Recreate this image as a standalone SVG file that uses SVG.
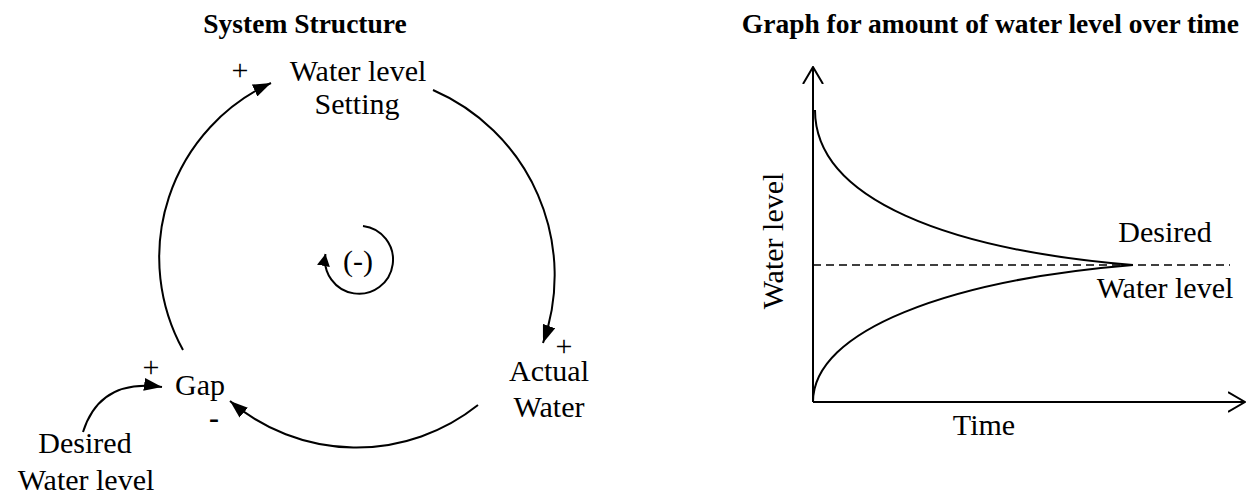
<svg xmlns="http://www.w3.org/2000/svg" width="1260" height="497" viewBox="0 0 1260 497">
<style>
text{font-family:"Liberation Serif","Times New Roman",serif;font-size:30px;fill:#000}
.t{font-weight:bold;font-size:27.5px}
.c{text-anchor:middle}
.ln{fill:none;stroke:#000;stroke-width:2}
.dash{fill:none;stroke:#000;stroke-width:1.6;stroke-dasharray:8,5}
</style>
<defs>
<marker id="ah" viewBox="0 0 18 13" refX="18" refY="6.5" markerWidth="18" markerHeight="13" markerUnits="userSpaceOnUse" orient="auto">
<path d="M0,0 L18,6.5 L0,13 z" fill="#000"/>
</marker>
<marker id="ahs" viewBox="0 0 12 13" refX="12" refY="6.5" markerWidth="12" markerHeight="13" markerUnits="userSpaceOnUse" orient="auto">
<path d="M0,0 L12,6.5 L0,13 z" fill="#000"/>
</marker>
<marker id="open" viewBox="0 0 18 22" refX="17" refY="11" markerWidth="18" markerHeight="22" markerUnits="userSpaceOnUse" orient="auto">
<path d="M0,1 L17,11 L0,21" fill="none" stroke="#000" stroke-width="2"/>
</marker>
</defs>

<text class="t c" x="305" y="33">System Structure</text>
<text class="t" x="1239" y="33" text-anchor="end">Graph for amount of water level over time</text>

<g id="node-setting">
<text class="c" x="358" y="81">Water level</text>
<text class="c" x="357" y="114">Setting</text>
</g>
<g id="node-actual">
<text class="c" x="549" y="381">Actual</text>
<text class="c" x="549" y="417">Water</text>
</g>
<g id="node-gap">
<text x="175" y="395">Gap</text>
</g>
<g id="node-desired">
<text class="c" x="85" y="453">Desired</text>
<text class="c" x="86" y="490">Water level</text>
</g>
<g id="loop-label">
<text class="c" x="358" y="271">(-)</text>
</g>

<g id="connectors">
<path class="ln" d="M183,350 A192,192 0 0,1 271,83" marker-end="url(#ah)"/>
<path class="ln" d="M433,90 A202,202 0 0,1 543,343" marker-end="url(#ah)"/>
<path class="ln" d="M478,405 A195,195 0 0,1 230,401" marker-end="url(#ah)"/>
<path class="ln" d="M83,432 Q100,378 162,387" marker-end="url(#ah)"/>
<path class="ln" d="M363,226 A34,34 0 1,1 325.5,254" marker-end="url(#ahs)"/>
</g>
<g id="polarities">
<text class="c" x="240" y="80">+</text>
<text class="c" x="564" y="356">+</text>
<text class="c" x="151" y="377">+</text>
<text style="font-weight:bold" x="209" y="428">-</text>
</g>

<g id="graph">
<path class="ln" d="M813,402 L813,67" marker-end="url(#open)"/>
<path class="ln" d="M813,402 L1245,402" marker-end="url(#open)"/>
<path class="dash" d="M813,265 L1230,265"/>
<path class="ln" d="M815,110 C815,200 950,250 1133,265"/>
<path class="ln" d="M813,402 C813,330 950,280 1133,265"/>
<text class="c" transform="translate(783,241) rotate(-90)" x="0" y="0">Water level</text>
<text class="c" x="984" y="435">Time</text>
<text class="c" x="1165" y="242">Desired</text>
<text class="c" x="1165" y="298">Water level</text>
</g>
</svg>
